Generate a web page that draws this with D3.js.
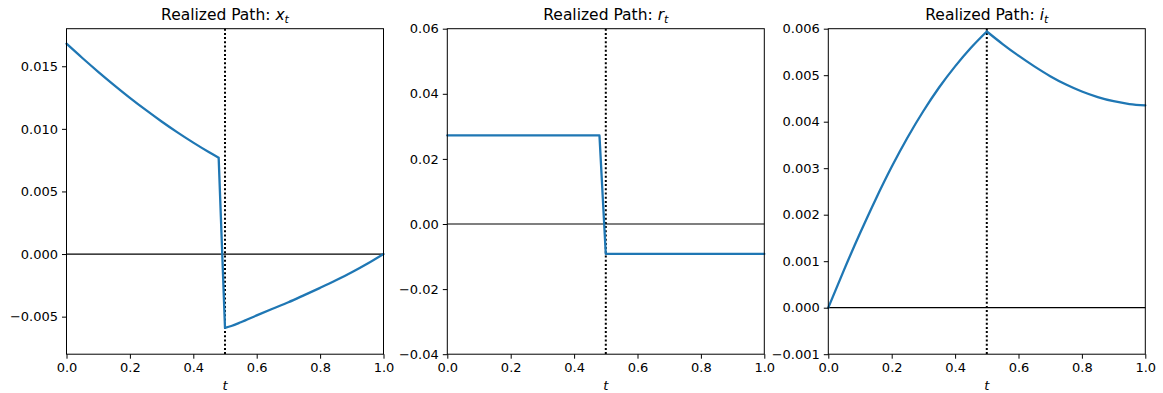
<!DOCTYPE html>
<html>
<head>
<meta charset="utf-8">
<script src="https://cdn.jsdelivr.net/npm/d3@7/dist/d3.min.js"></script>
<style>
  body { margin: 0; background: #fff; }
  svg { display: block; font-family: "DejaVu Sans", sans-serif; }
</style>
</head>
<body>
<svg id="fig" width="1163" height="393"></svg>
<script>
var t_x = [0, 0.05, 0.1, 0.15, 0.2, 0.25, 0.3, 0.35, 0.4, 0.45, 0.48,
           0.5, 0.52, 0.55, 0.6, 0.65, 0.7, 0.75, 0.8, 0.85, 0.9, 0.95, 1.0];
var x_path = [0.0168, 0.01566, 0.01456, 0.0135, 0.01248, 0.01151, 0.01059, 0.00972, 0.0089, 0.00813, 0.0077,
              -0.0059, -0.00575, -0.00545, -0.0049, -0.00437, -0.00385, -0.00328, -0.0027, -0.0021, -0.00146, -0.00076, 0.0];
var x_breaks = [10, 11];

var t_r = [0, 0.48, 0.5, 1.0];
var r_path = [0.0272, 0.0272, -0.0092, -0.0092];
var r_breaks = [1, 2];

var t_i = [0, 0.05, 0.1, 0.15, 0.2, 0.25, 0.3, 0.35, 0.4, 0.45, 0.5,
           0.55, 0.6, 0.65, 0.7, 0.75, 0.8, 0.85, 0.9, 0.95, 1.0];
var i_path = [0, 0.00082, 0.0016, 0.00234, 0.00303, 0.00366, 0.00423, 0.00474, 0.00519, 0.00559, 0.00594,
              0.00567, 0.00542, 0.00519, 0.00498, 0.0048, 0.00465, 0.00453, 0.00444, 0.00438, 0.00435];
var i_breaks = [10];

var x_ticks = [0, 0.2, 0.4, 0.6, 0.8, 1.0];

var panels = [
    {name: "x", t: t_x, v: x_path, breaks: x_breaks, domain: [-0.008, 0.018],
     ticks: [-0.005, 0, 0.005, 0.010, 0.015], fmt: ".3f", left: 66.5},
    {name: "r", t: t_r, v: r_path, breaks: r_breaks, domain: [-0.04, 0.06],
     ticks: [-0.04, -0.02, 0, 0.02, 0.04, 0.06], fmt: ".2f", left: 447.3},
    {name: "i", t: t_i, v: i_path, breaks: i_breaks, domain: [-0.001, 0.006],
     ticks: [-0.001, 0, 0.001, 0.002, 0.003, 0.004, 0.005, 0.006], fmt: ".3f", left: 828.3}
];

var svg = d3.select("#fig");
var top_y = 28.7, bottom_y = 354.2, width = 317;
var blue = "#1f77b4";

function minus_fmt(f) {
    var base = d3.format(f);
    return function(d) { return base(d).replace("-", "\u2212"); };
}

panels.forEach(function(p) {
    var x = d3.scaleLinear().domain([0, 1]).range([p.left, p.left + width]);
    var y = d3.scaleLinear().domain(p.domain).range([bottom_y, top_y]);
    var g = svg.append("g");

    // zero line
    g.append("line")
        .attr("x1", x(0)).attr("x2", x(1))
        .attr("y1", y(0)).attr("y2", y(0))
        .attr("stroke", "#000").attr("stroke-width", 1.2);

    // dotted line at t = 0.5
    g.append("line")
        .attr("x1", x(0.5)).attr("x2", x(0.5))
        .attr("y1", top_y).attr("y2", bottom_y)
        .attr("stroke", "#000").attr("stroke-width", 2)
        .attr("stroke-dasharray", "2,2.2");

    var line = d3.line()
        .curve(d3.curveMonotoneX)
        .x(function(d) { return x(d[0]); })
        .y(function(d) { return y(d[1]); });

    // smooth pieces between kinks, straight across the jump
    var pts = d3.zip(p.t, p.v);
    var cuts = [0].concat(p.breaks, [pts.length - 1]);
    var d_str = "";
    for (var k = 0; k < cuts.length - 1; k++) {
        d_str += line(pts.slice(cuts[k], cuts[k + 1] + 1));
    }
    g.append("path")
        .attr("d", d_str)
        .attr("fill", "none")
        .attr("stroke", blue)
        .attr("stroke-width", 2.3)
        .attr("stroke-linejoin", "round")
        .attr("stroke-linecap", "round");

    // spines
    g.append("rect")
        .attr("x", x(0)).attr("y", top_y)
        .attr("width", width).attr("height", bottom_y - top_y)
        .attr("fill", "none").attr("stroke", "#000").attr("stroke-width", 1);

    var xa = g.append("g")
        .attr("transform", "translate(0," + bottom_y + ")")
        .call(d3.axisBottom(x).tickValues(x_ticks).tickFormat(d3.format(".1f"))
              .tickSize(4.5).tickPadding(4));
    var ya = g.append("g")
        .attr("transform", "translate(" + x(0) + ",0)")
        .call(d3.axisLeft(y).tickValues(p.ticks).tickFormat(minus_fmt(p.fmt))
              .tickSize(4.5).tickPadding(4));
    [xa, ya].forEach(function(a) {
        a.select(".domain").remove();
        a.selectAll("text").attr("font-size", 13).attr("fill", "#000")
            .attr("font-family", "DejaVu Sans, sans-serif");
        a.selectAll("line").attr("stroke", "#000");
    });

    // title
    var title = g.append("text")
        .attr("x", x(0.5)).attr("y", 20)
        .attr("text-anchor", "middle")
        .attr("font-size", 15.5);
    title.append("tspan").text("Realized Path: ");
    title.append("tspan").attr("font-style", "italic").text(p.name);
    title.append("tspan").attr("font-style", "italic").attr("font-size", 11)
        .attr("dy", 3).text("t");

    // x label
    g.append("text")
        .attr("x", x(0.5)).attr("y", 390)
        .attr("text-anchor", "middle")
        .attr("font-size", 13).attr("font-style", "italic")
        .text("t");
});
</script>
</body>
</html>
